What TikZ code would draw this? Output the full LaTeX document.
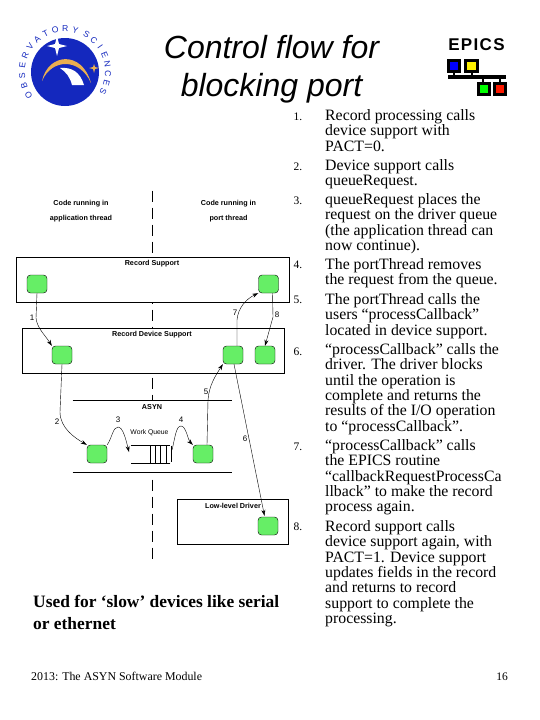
\documentclass[tikz,border=0pt]{standalone}
\usepackage{fontspec}
\setmainfont{Liberation Serif}
\setsansfont{Liberation Sans}
\usetikzlibrary{arrows.meta,positioning,shapes.geometric,calc}
\definecolor{boxgreen}{RGB}{102,238,102}
\definecolor{logoblue}{RGB}{20,40,190}
\definecolor{logogold}{RGB}{235,175,80}
\tikzset{
  stepbox/.style={draw, fill=boxgreen, rounded corners=3.5pt, minimum width=20pt, minimum height=18pt, inner sep=0pt},
  layerbox/.style={draw, thick, inner sep=0pt},
  flow/.style={-{Stealth[length=6pt,width=4pt]}},
  capt/.style={font=\sffamily\fontsize{7.2}{15.5}\selectfont\bfseries, align=center, inner sep=0pt},
  tag/.style={font=\sffamily\fontsize{8}{9}\selectfont, inner sep=0pt},
  num/.style={font=\fontsize{11.5}{13}\selectfont, inner sep=0pt},
  item/.style={font=\fontsize{15.8}{15.3}\selectfont, align=left, anchor=north west, inner sep=0pt},
}
\begin{document}
\begin{tikzpicture}[x=1pt, y=-1pt]
  \useasboundingbox (0,0) rectangle (540,720);
  % logo
  \node (logo) [circle, fill=logoblue, minimum size=68pt, inner sep=0pt] at (65,72) {};
  \foreach \ch/\ang in {O/212,B/198.4,S/184.8,E/171.2,R/157.6,V/144,A/130.4,T/116.8,O/103.2,R/89.6,Y/76,S/60,C/47.6,I/35.2,E/22.8,N/10.4,C/-2,E/-14.4,S/-27}
    \node [font=\sffamily\fontsize{8.6}{9}\selectfont, text=logoblue, rotate=\ang-90, inner sep=0pt] at ($(logo.center)+(\ang:43pt)$) {\ch};
  \fill[logogold] (42,81) .. controls (48,53) and (82,50) .. (91,83) .. controls (80,58) and (52,58) .. (42,81) -- cycle;
  \fill[white] (60,68) .. controls (72,67) and (80,72) .. (84,85) -- (72,85) .. controls (70,77) and (66,72) .. (60,68) -- cycle;
  \fill[white] (57,36) -- (59,44) -- (67,46) -- (59,48) -- (57,56) -- (55,48) -- (47,46) -- (55,44) -- cycle;
  \fill[logogold] (94,64) -- (95,67) -- (99,68) -- (95,69) -- (94,73) -- (93,69) -- (89,68) -- (93,67) -- cycle;
  % title
  \node (title) [font=\sffamily\itshape\fontsize{32}{38}\selectfont, align=center, inner sep=0pt] at (271.5,69) {Control flow for\\blocking port};
  % epics mark
  \node (epics) [font=\sffamily\bfseries\fontsize{17}{17}\selectfont\addfontfeature{LetterSpace=8}, inner sep=0pt] at (476.5,44.5) {EPICS};
  \fill (448,75) rectangle (506,79);
  \draw[line width=2pt] (454,72) -- (454,76) (472,72) -- (472,76) (483,78) -- (483,83) (500,78) -- (500,83);
  \foreach \px/\py/\col in {454/66/blue,471.5/66/yellow,484/89/green,500/89/red!80!orange}
    \node [draw=black, line width=3pt, fill=\col, minimum size=11.5pt, inner sep=0pt] at (\px,\py) {};
  % thread divider
  \node (divtop) [inner sep=0pt] at (152.5,190) {};
  \node (divbot) [inner sep=0pt] at (152.5,565) {};
  \draw[dashed, dash pattern=on 11pt off 6pt] (divtop) -- (divbot);
  % layers
  \node (recsup) [layerbox, fill=white, minimum width=273pt, minimum height=45pt] at (152.5,279.5) {};
  \node (devsup) [layerbox, fill=white, minimum width=262pt, minimum height=45pt] at (153,350.5) {};
  \node (driver) [layerbox, fill=white, minimum width=111pt, minimum height=45pt] at (232.5,521.5) {};
  \node (asyntop) [inner sep=0pt] at (72,400) {};
  \node (asyntopr) [inner sep=0pt] at (233,400) {};
  \node (asynbot) [inner sep=0pt] at (72,472) {};
  \node (asynbotr) [inner sep=0pt] at (233,472) {};
  \fill[white] (148,400) rectangle (158,476);
  \draw[thick] (asyntop) -- (asyntopr);
  \draw[thick] (asynbot) -- (asynbotr);
  % captions
  \node (capapp) [capt] at (81,211) {Code running in\\application thread};
  \node (capport) [capt] at (228.5,211) {Code running in\\port thread};
  \node (caprec) [capt] at (152,264) {Record Support};
  \node (capdev) [capt] at (152,335) {Record Device Support};
  \node (capasyn) [capt] at (152,407) {ASYN};
  \node (capdrv) [capt] at (233,506) {Low-level Driver};
  \node (capwork) [tag, font=\sffamily\fontsize{6.8}{8}\selectfont] at (149.5,433) {Work Queue};
  % steps
  \node (a) [stepbox] at (37,284) {};
  \node (b) [stepbox] at (268.5,284) {};
  \node (c) [stepbox] at (62,355) {};
  \node (d) [stepbox] at (233,355) {};
  \node (e) [stepbox] at (265,355) {};
  \node (f) [stepbox] at (97,454) {};
  \node (g) [stepbox] at (203,454) {};
  \node (h) [stepbox] at (268,526) {};
  % queue
  \node (qin) [inner sep=0pt] at (130,445) {};
  \node (qinb) [inner sep=0pt] at (130,463) {};
  \node (qout) [inner sep=0pt] at (171,445) {};
  \node (qoutb) [inner sep=0pt] at (171,463) {};
  \coordinate (qtip) at (129,452);
  \coordinate (qtail) at (172,450);
  \draw (qin) -- (qout) -- (qoutb) -- (qinb);
  \foreach \qx in {150,155,160,166}
    \draw (\qx,445) -- (\qx,463);
  % flows
  \draw[flow] (a.south) -- (36,318) .. controls (37,328) and (45,335) .. (c.north west);
  \draw[flow] (c.south) -- (60,412) .. controls (60,428) and (75,438) .. (f.north west);
  \draw[flow] (f.north east) .. controls (112,438) and (113,427) .. (118,427) .. controls (123,427) and (126,440) .. (qtip);
  \draw[flow] (qtail) .. controls (175,438) and (176,426) .. (181,426) .. controls (186,426) and (188,440) .. (g.north west);
  \draw[flow] ($(g.north)+(4,0)$) -- (208,400) .. controls (209,385) and (216,375) .. (d.south west);
  \draw[flow] ($(d.south)+(1,0)$) -- ($(h.north)+(-3.5,-1)$);
  \draw[flow] ($(d.north)+(4,0)$) -- (237,320) .. controls (238,308) and (246,299) .. (b.south west);
  \draw[flow] ($(b.south)+(4,0)$) -- (273,317) -- (e.north);
  % step numbers
  \node (n1) [tag] at (32,318) {1};
  \node (n2) [tag] at (57,422) {2};
  \node (n3) [tag] at (118,420) {3};
  \node (n4) [tag] at (181,420) {4};
  \node (n5) [tag] at (206,392) {5};
  \node (n6) [tag] at (245,439) {6};
  \node (n7) [tag] at (235,313) {7};
  \node (n8) [tag] at (277,315) {8};
  % list
  \foreach \lab/\ly in {1/117,2/167,3/201,4/265,5/300,6/352,7/447,8/527}
    \node (num\lab) [num] at (298,\ly) {\lab.};
  \node (it1) [item] at (325,109.5) {Record processing calls\\device support with\\PACT=0.};
  \node (it2) [item] at (325,159.5) {Device support calls\\queueRequest.};
  \node (it3) [item] at (325,193.5) {queueRequest places the\\request on the driver queue\\(the application thread can\\now continue).};
  \node (it4) [item] at (325,258.5) {The portThread removes\\the request from the queue.};
  \node (it5) [item] at (325,293.5) {The portThread calls the\\users “processCallback”\\located in device support.};
  \node (it6) [item] at (325,343.5) {“processCallback” calls the\\driver. The driver blocks\\until the operation is\\complete and returns the\\results of the I/O operation\\to “processCallback”.};
  \node (it7) [item] at (325,439.5) {“processCallback” calls\\the EPICS routine\\“callbackRequestProcessCa\\llback” to make the record\\process again.};
  \node (it8) [item] at (325,520.5) {Record support calls\\device support again, with\\PACT=1. Device support\\updates fields in the record\\and returns to record\\support to complete the\\processing.};
  % footer
  \node (used) [font=\bfseries\fontsize{17.4}{22}\selectfont, align=left, anchor=north west, inner sep=0pt] at (33,595) {Used for ‘slow’ devices like serial\\or ethernet};
  \node (foot) [font=\fontsize{11.9}{13}\selectfont, anchor=west, inner sep=0pt] at (31,676.5) {2013: The ASYN Software Module};
  \node (page) [font=\fontsize{11.5}{13}\selectfont, anchor=east, inner sep=0pt] at (508,676.5) {16};
\end{tikzpicture}
\end{document}
